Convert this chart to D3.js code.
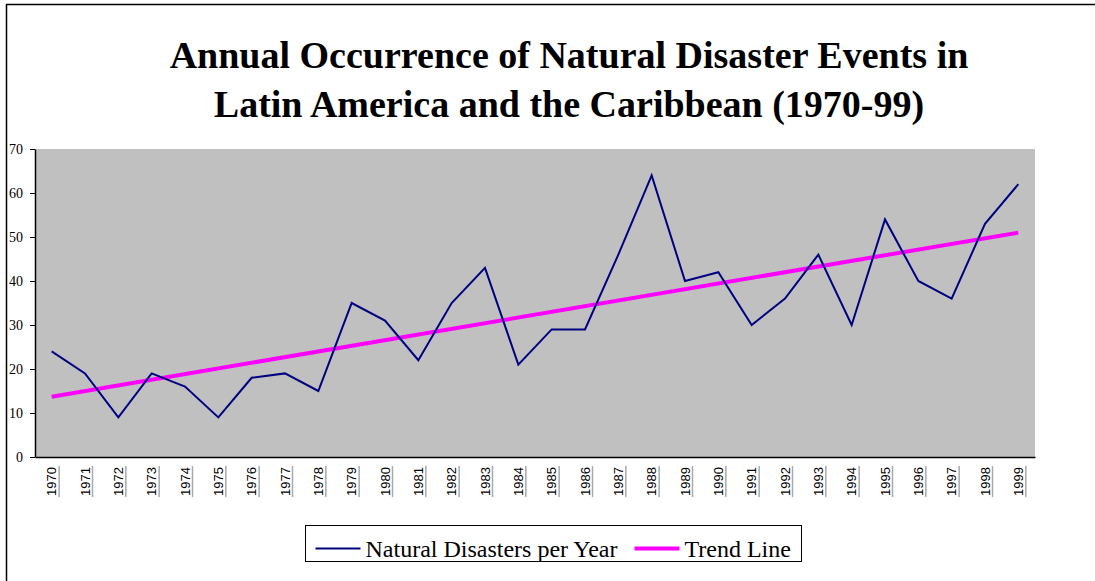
<!DOCTYPE html>
<html>
<head>
<meta charset="utf-8">
<script src="https://cdn.jsdelivr.net/npm/d3@7"></script>
<style>
  body { margin: 0; background: #fff; }
  svg { display: block; }
</style>
</head>
<body>
<svg id="chart" width="1095" height="581"></svg>
<script>
"use strict";
// chart data
var years = ["1970","1971","1972","1973","1974","1975","1976","1977","1978","1979",
             "1980","1981","1982","1983","1984","1985","1986","1987","1988","1989",
             "1990","1991","1992","1993","1994","1995","1996","1997","1998","1999"];
var disasters = [24,19,9,19,16,9,18,19,15,35,
                 31,22,35,43,21,29,29,46,64,40,
                 42,30,36,46,30,54,40,36,53,62];
// trend line values read at first and last year
var trendYears = ["1970","1999"];
var trendValues = [13.7, 51.0];
var yTicks = [0,10,20,30,40,50,60,70];
var titleLines = ["Annual Occurrence of Natural Disaster Events in",
                  "Latin America and the Caribbean (1970-99)"];
var legendNames = ["Natural Disasters per Year", "Trend Line"];

var svg = d3.select("#chart"),
    margin = { top: 149, right: 60, bottom: 124, left: 35 },
    width = +svg.attr("width") - margin.left - margin.right,
    height = +svg.attr("height") - margin.top - margin.bottom;

var serif = "'Liberation Serif', 'Times New Roman', serif";

// outer frame (left and top edges only)
svg.append("line").attr("x1", 6.5).attr("x2", 6.5).attr("y1", 4).attr("y2", 581)
    .attr("stroke", "#000").attr("stroke-width", 1.5);
svg.append("line").attr("x1", 6).attr("x2", 1095).attr("y1", 4.5).attr("y2", 4.5)
    .attr("stroke", "#000").attr("stroke-width", 1.5);

// title
svg.append("text")
    .attr("x", 569).attr("y", 68)
    .attr("text-anchor", "middle")
    .style("font-family", serif)
    .style("font-weight", "bold")
    .style("font-size", "38px")
    .selectAll("tspan")
    .data(titleLines)
    .enter().append("tspan")
    .attr("x", 569)
    .attr("dy", function (d, i) { return i === 0 ? 0 : 49; })
    .text(function (d) { return d; });

var x = d3.scaleBand().domain(years).range([0, width]);
var y = d3.scaleLinear().domain([0, 70]).range([height, 0]);

var g = svg.append("g")
    .attr("transform", "translate(" + margin.left + "," + margin.top + ")");

g.append("rect")
    .attr("width", width).attr("height", height)
    .attr("fill", "#c0c0c0");

// y axis
var yAxis = g.append("g")
    .call(d3.axisLeft(y).tickValues(yTicks).tickSize(5).tickSizeOuter(0));
yAxis.select(".domain").attr("stroke", "#000").attr("stroke-width", 1.5);
yAxis.selectAll(".tick line").attr("stroke", "#000");
yAxis.selectAll(".tick text")
    .attr("x", -12)
    .style("font-family", serif)
    .style("font-size", "14px")
    .attr("fill", "#000");

// x axis
var xAxis = g.append("g")
    .attr("transform", "translate(0," + height + ")")
    .call(d3.axisBottom(x).tickSize(0).tickSizeOuter(0));
xAxis.select(".domain").attr("stroke", "#000").attr("stroke-width", 1.5);
xAxis.selectAll(".tick text")
    .attr("transform", "rotate(-90)")
    .attr("x", -10).attr("y", 0).attr("dy", "0.35em")
    .attr("text-anchor", "end")
    .style("font-family", "'Liberation Sans', Arial, sans-serif")
    .style("font-size", "13px")
    .attr("fill", "#000");
xAxis.selectAll(".tick").append("line")
    .attr("x1", 7.5).attr("x2", 7.5).attr("y1", 9).attr("y2", 40)
    .attr("stroke", "#aaa").attr("stroke-width", 1.5);

// data lines
var cx = function (d) { return x(d) + x.bandwidth() / 2; };

var line = d3.line()
    .x(function (d, i) { return cx(years[i]); })
    .y(function (d) { return y(d); });

var trend = d3.line()
    .x(function (d, i) { return cx(trendYears[i]); })
    .y(function (d) { return y(d); });

g.append("path")
    .datum(trendValues)
    .attr("fill", "none")
    .attr("stroke", "#ff00ff")
    .attr("stroke-width", 4)
    .attr("d", trend);

g.append("path")
    .datum(disasters)
    .attr("fill", "none")
    .attr("stroke", "#000080")
    .attr("stroke-width", 2)
    .attr("d", line);

// legend
var legend = svg.append("g").attr("transform", "translate(305.5,525.5)");
legend.append("rect")
    .attr("width", 496).attr("height", 36)
    .attr("fill", "#fff").attr("stroke", "#000");
var legendStyles = [
    { color: "#000080", w: 2, x: 10 },
    { color: "#ff00ff", w: 4, x: 329 }
];
legendNames.forEach(function (name, i) {
    var s = legendStyles[i];
    legend.append("line")
        .attr("x1", s.x).attr("x2", s.x + 45)
        .attr("y1", 23).attr("y2", 23)
        .attr("stroke", s.color).attr("stroke-width", s.w);
    legend.append("text")
        .attr("x", s.x + 50).attr("y", 31)
        .style("font-family", serif)
        .style("font-size", "24px")
        .attr("fill", "#000")
        .text(name);
});
</script>
</body>
</html>
